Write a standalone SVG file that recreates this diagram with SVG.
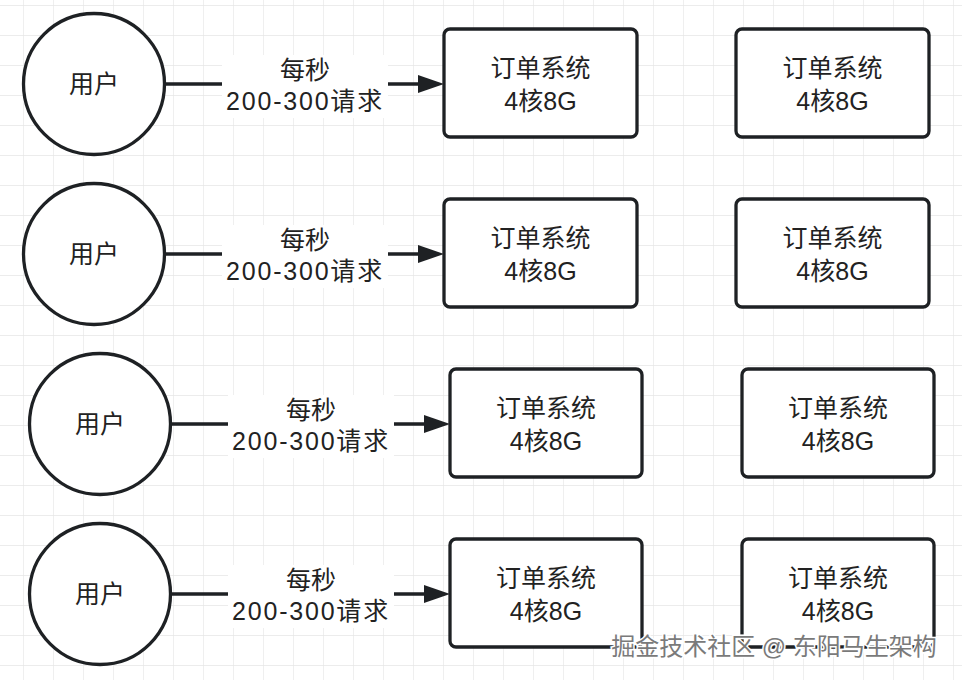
<svg xmlns="http://www.w3.org/2000/svg" width="962" height="680" viewBox="0 0 962 680">
<defs>
<pattern id="grid" x="23" y="5" width="30" height="30" patternUnits="userSpaceOnUse">
<path d="M0 0H30M0 0V30" fill="none" stroke="#e6e6e6" stroke-width="1.3"/>
</pattern>
</defs>
<style>
.t{font-family:"Liberation Sans","Noto Sans CJK SC",sans-serif;font-size:25px;fill:#222;text-anchor:middle}
.n{fill:#fff;stroke:#1e2124;stroke-width:3.3}
.c{fill:none;stroke:#1e2124;stroke-width:3.5}
.lb{fill:#fff}
.ah{fill:#1e2124}
.wm{font-family:"Liberation Sans","Noto Sans CJK SC",sans-serif;font-size:24px;fill:#7a7a7a;stroke:#fff;stroke-width:3;paint-order:stroke;text-anchor:middle}
</style>
<rect width="962" height="680" fill="#fff"/>
<rect width="962" height="680" fill="url(#grid)"/>

<g id="connectors">
<g><line class="c" x1="165" y1="84" x2="426" y2="84"/><path class="ah" d="M418 75L444 84L418 93Z"/>
<rect class="lb" x="222" y="55" width="166" height="63"/>
<text class="t" x="305" y="79">每秒</text><text class="t" x="305" y="110" letter-spacing="1.8">200-300请求</text></g>
<g><line class="c" x1="165" y1="254" x2="426" y2="254"/><path class="ah" d="M418 245L444 254L418 263Z"/>
<rect class="lb" x="222" y="225" width="166" height="63"/>
<text class="t" x="305" y="249">每秒</text><text class="t" x="305" y="280" letter-spacing="1.8">200-300请求</text></g>
<g><line class="c" x1="171" y1="424" x2="432" y2="424"/><path class="ah" d="M424 415L450 424L424 433Z"/>
<rect class="lb" x="228" y="395" width="166" height="63"/>
<text class="t" x="311" y="419">每秒</text><text class="t" x="311" y="450" letter-spacing="1.8">200-300请求</text></g>
<g><line class="c" x1="171" y1="594" x2="432" y2="594"/><path class="ah" d="M424 585L450 594L424 603Z"/>
<rect class="lb" x="228" y="565" width="166" height="63"/>
<text class="t" x="311" y="589">每秒</text><text class="t" x="311" y="620" letter-spacing="1.8">200-300请求</text></g>
</g>

<g id="user1"><circle class="n" cx="94" cy="84" r="70.5"/><text class="t" x="94" y="93">用户</text></g>
<g id="user2"><circle class="n" cx="94" cy="254" r="70.5"/><text class="t" x="94" y="263">用户</text></g>
<g id="user3"><circle class="n" cx="100" cy="424" r="70.5"/><text class="t" x="100" y="433">用户</text></g>
<g id="user4"><circle class="n" cx="100" cy="594" r="70.5"/><text class="t" x="100" y="603">用户</text></g>

<g id="order1a"><rect class="n" x="444" y="29" width="193" height="108" rx="6"/><text class="t" x="540.5" y="77">订单系统</text><text class="t" x="540.5" y="110">4核8G</text></g>
<g id="order1b"><rect class="n" x="736" y="29" width="193" height="108" rx="6"/><text class="t" x="832.5" y="77">订单系统</text><text class="t" x="832.5" y="110">4核8G</text></g>
<g id="order2a"><rect class="n" x="444" y="199" width="193" height="108" rx="6"/><text class="t" x="540.5" y="247">订单系统</text><text class="t" x="540.5" y="280">4核8G</text></g>
<g id="order2b"><rect class="n" x="736" y="199" width="193" height="108" rx="6"/><text class="t" x="832.5" y="247">订单系统</text><text class="t" x="832.5" y="280">4核8G</text></g>
<g id="order3a"><rect class="n" x="450" y="369" width="192" height="108" rx="6"/><text class="t" x="546" y="417">订单系统</text><text class="t" x="546" y="450">4核8G</text></g>
<g id="order3b"><rect class="n" x="742" y="369" width="192" height="108" rx="6"/><text class="t" x="838" y="417">订单系统</text><text class="t" x="838" y="450">4核8G</text></g>
<g id="order4a"><rect class="n" x="450" y="539" width="192" height="108" rx="6"/><text class="t" x="546" y="587">订单系统</text><text class="t" x="546" y="620">4核8G</text></g>
<g id="order4b"><rect class="n" x="742" y="539" width="192" height="108" rx="6"/><text class="t" x="838" y="587">订单系统</text><text class="t" x="838" y="620">4核8G</text></g>

<text class="wm" x="774" y="655">掘金技术社区 @ 东阳马生架构</text>
</svg>
